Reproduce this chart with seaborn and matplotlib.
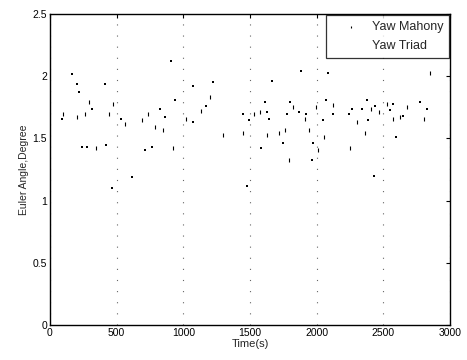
"""Yaw angle comparison: Mahony filter vs. TRIAD, scatter over time."""

import matplotlib
matplotlib.use("Agg")
import matplotlib.pyplot as plt
import pandas as pd
import seaborn as sns

# Yaw from the Mahony filter (time in s, angle in degree)
mahony_time = [100, 200, 260, 295, 345, 445, 470, 560, 690, 735, 790, 850,
               925, 1020, 1130, 1200, 1300, 1450, 1530, 1575, 1625, 1720,
               1765, 1790, 1825, 1910, 1945, 1995, 2010, 2055, 2125, 2250,
               2300, 2365, 2405, 2470, 2530, 2575, 2625, 2680, 2805, 2845]
mahony_yaw = [1.70, 1.67, 1.70, 1.79, 1.42, 1.70, 1.78, 1.62, 1.65, 1.70, 1.59, 1.57,
              1.42, 1.66, 1.72, 1.83, 1.53, 1.54, 1.70, 1.71, 1.53, 1.54,
              1.57, 1.33, 1.75, 1.66, 1.57, 1.75, 1.41, 1.51, 1.77, 1.42,
              1.63, 1.54, 1.74, 1.71, 1.78, 1.66, 1.67, 1.75, 1.66, 2.03]

# Yaw from the TRIAD method
triad_time = [90, 165, 205, 220, 240, 275, 315, 415, 420, 465, 530, 615,
              710, 765, 825, 860, 908, 940, 1070, 1075, 1170, 1225, 1450,
              1480, 1490, 1580, 1610, 1625, 1645, 1665, 1750, 1780, 1800,
              1870, 1885, 1920, 1965, 1970, 2045, 2070, 2085, 2125, 2245,
              2265, 2340, 2375, 2385, 2430, 2435, 2550, 2570, 2595, 2650,
              2775, 2825]
triad_yaw = [1.66, 2.02, 1.94, 1.87, 1.43, 1.43, 1.74, 1.94, 1.45, 1.10, 1.66, 1.19,
             1.41, 1.43, 1.74, 1.67, 2.12, 1.81, 1.92, 1.63, 1.76, 1.95, 1.70,
             1.12, 1.65, 1.42, 1.79, 1.71, 1.66, 1.96, 1.46, 1.70, 1.79,
             1.71, 2.04, 1.70, 1.33, 1.46, 1.65, 1.81, 2.03, 1.70, 1.70,
             1.74, 1.74, 1.81, 1.65, 1.20, 1.76, 1.73, 1.78, 1.51, 1.68,
             1.79, 1.74]

x_ticks = [0, 500, 1000, 1500, 2000, 2500, 3000]
y_ticks = [0, 0.5, 1, 1.5, 2, 2.5]
y_tick_labels = ["0", "0.5", "1", "1.5", "2", "2.5"]

mahony_df = pd.DataFrame({"Time": mahony_time, "Yaw": mahony_yaw})
triad_df = pd.DataFrame({"Time": triad_time, "Yaw": triad_yaw})

sns.set_style("white")
plt.rcParams["font.family"] = ["Liberation Sans", "DejaVu Sans"]

fig = plt.figure(figsize=(4.67, 3.6), dpi=100)
ax = fig.add_axes([0.107, 0.097, 0.857, 0.864])

# short vertical ticks for Mahony, small dots for Triad (both black in the original)
sns.scatterplot(data=mahony_df, x="Time", y="Yaw", marker="|", color="black",
                s=11, linewidth=0.8, label="Yaw Mahony", ax=ax)
sns.scatterplot(data=triad_df, x="Time", y="Yaw", marker="s", color="black",
                s=2.5, linewidth=0, label="Yaw Triad", ax=ax)

# sparse dotted vertical grid like the scanned original
ax.xaxis.grid(True, color="0.4", linestyle=(0, (1, 9)), linewidth=0.8)
ax.set_xlim(0, 3000)
ax.set_ylim(0, 2.5)
ax.set_xticks(x_ticks)
ax.set_yticks(y_ticks)
ax.set_yticklabels(y_tick_labels)
ax.tick_params(direction="in", length=3, labelsize=7.5, top=True, right=True,
               colors="black", pad=2)
for spine in ax.spines.values():
    spine.set_color("black")
    spine.set_linewidth(1.0)

ax.set_xlabel("Time(s)", fontsize=8, labelpad=1)
ax.set_ylabel("Euler Angle,Degree", fontsize=7.5, labelpad=3)

leg = ax.legend(loc="upper right", bbox_to_anchor=(1.0, 1.0), fontsize=9,
                frameon=True, fancybox=False, edgecolor="black", handlelength=3.0,
                handletextpad=0.2, borderpad=0.45, labelspacing=0.6, markerscale=0.4,
                borderaxespad=0.1)
leg.get_frame().set_linewidth(0.9)

fig.savefig("out.png", dpi=100)
plt.close(fig)
